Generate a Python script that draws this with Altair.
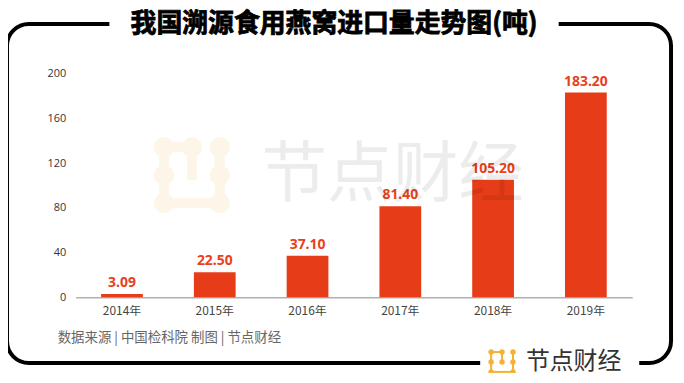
import altair as alt
import pandas as pd

years = ["2014年", "2015年", "2016年", "2017年", "2018年", "2019年"]
imports = [3.09, 22.50, 37.10, 81.40, 105.20, 183.20]
value_labels = ["3.09", "22.50", "37.10", "81.40", "105.20", "183.20"]
y_ticks = [0, 40, 80, 120, 160, 200]
title_text = "我国溯源食用燕窝进口量走势图(吨)"
source_text = "数据来源 | 中国检科院 制图 | 节点财经"
brand_text = "节点财经"

df = pd.DataFrame({"year": years, "value": imports, "label": value_labels})
one = pd.DataFrame({"k": [0]})

W, H = 560, 225
OX, OY = 76, 73  # page position of plot origin
CJK = "Noto Sans CJK SC"


def px(x):
    return x - OX


def py(y):
    return y - OY


def rect(x1, x2, y1, y2, **kw):
    return alt.Chart(one).mark_rect(**kw).encode(
        x=alt.value(px(x1)), x2=alt.value(px(x2)),
        y=alt.value(py(y1)), y2=alt.value(py(y2)))


def dot(x, y, size, color, opacity=1.0):
    return alt.Chart(one).mark_point(filled=True, size=size, color=color, opacity=opacity).encode(
        x=alt.value(px(x)), y=alt.value(py(y)))


def text(t, x, y, **kw):
    return alt.Chart(one).mark_text(text=t, **kw).encode(
        x=alt.value(px(x)), y=alt.value(py(y)))


x_enc = alt.X("year:N", sort=years,
              scale=alt.Scale(paddingInner=0.55, paddingOuter=0.275),
              axis=alt.Axis(title=None, labelAngle=0, ticks=False, domainColor="#888888",
                            domainWidth=1, labelPadding=8, labelFontSize=12,
                            labelFont=CJK, labelColor="#444444"))
y_enc = alt.Y("value:Q", scale=alt.Scale(domain=[0, 200]),
              axis=alt.Axis(title=None, values=y_ticks, domain=False, ticks=False, grid=False,
                            labelPadding=10, labelFontSize=11, labelFont="Open Sans",
                            labelColor="#333333"))

bars = alt.Chart(df).mark_bar(color="#E63C17").encode(x=x_enc, y=y_enc)
labels = alt.Chart(df).mark_text(dy=-4, baseline="bottom", fontWeight="bold", fontSize=14,
                                 font="Noto Sans", color="#E8411A").encode(
    x=alt.X("year:N", sort=years), y="value:Q", text="label:N")

layers = []
# outer rounded frame
layers.append(rect(7, 675, 23, 364, fillOpacity=0, stroke="black", strokeWidth=4, cornerRadius=22))
# title
layers.append(rect(110, 562, 8, 38, color="white"))
layers.append(text(title_text, 336, 23, fontSize=26, fontWeight="bold", font=CJK,
                   color="black", stroke="black", strokeWidth=0.8, align="center",
                   baseline="middle"))

# watermark icon (faint)
wm_color = "#FDF5E8"
wm_cols = [165, 193, 221]
wm_rows = [147, 175, 203]
layers.append(rect(160, 198, 142, 152, color=wm_color))
layers.append(rect(160, 226, 198, 208, color=wm_color))
layers.append(rect(160, 170, 142, 208, color=wm_color))
layers.append(rect(188, 198, 142, 180, color=wm_color))
layers.append(rect(216, 226, 142, 208, color=wm_color))
for cx in wm_cols:
    for cy in wm_rows:
        if cx == 193 and cy in (175, 203):
            continue
        layers.append(dot(cx, cy, 420, wm_color))

layers.append(bars)
layers.append(labels)

# watermark text
layers.append(text(brand_text, 395, 176, fontSize=66, font=CJK, color="black", opacity=0.07,
                   align="center", baseline="middle"))

# source footer
layers.append(text(source_text, 58, 339, fontSize=13.5, font=CJK, color="#666666",
                   align="left", baseline="middle"))

# brand logo over bottom frame line
layers.append(rect(483, 643, 347, 380, color="white"))
logo_color = "#F6B034"
lc = [494, 505, 516]
lr = [353, 363, 373]
layers.append(rect(493, 506, 352, 354, color=logo_color))
layers.append(rect(493, 517, 372, 374, color=logo_color))
layers.append(rect(493, 495, 352, 374, color=logo_color))
layers.append(rect(504, 506, 352, 363, color=logo_color))
layers.append(rect(515, 517, 352, 374, color=logo_color))
for cx in lc:
    for cy in lr:
        if cx == 505 and cy == 373:
            continue
        layers.append(dot(cx, cy, 30, logo_color))
layers.append(text(brand_text, 529, 363, fontSize=24, font=CJK, color="#333333",
                   align="left", baseline="middle"))

chart = alt.layer(*layers).properties(
    width=W, height=H,
    autosize=alt.AutoSizeParams(type="none"),
    padding={"left": 68, "top": 65, "right": 44, "bottom": 75},
    background="white",
).configure_view(strokeOpacity=0)

chart.save("out.html", embed_options={"renderer": "svg", "actions": False})
